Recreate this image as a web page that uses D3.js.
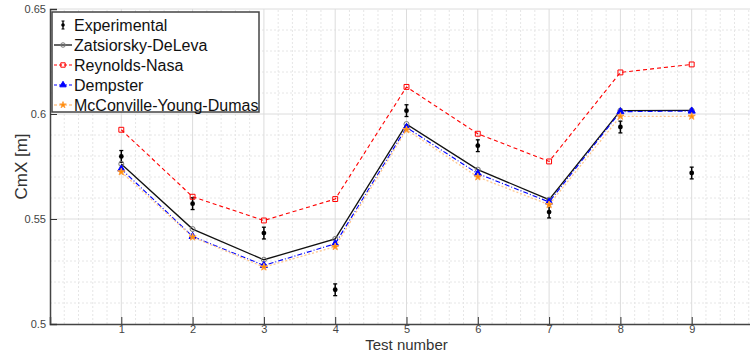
<!DOCTYPE html>
<html>
<head>
<meta charset="utf-8">
<script src="https://cdn.jsdelivr.net/npm/d3@7"></script>
<style>
  body { margin: 0; background: #fff; }
  svg { display: block; font-family: 'Liberation Sans', Arial, sans-serif; }
</style>
</head>
<body>
<div id="chart"></div>
<script>
const tests = [1, 2, 3, 4, 5, 6, 7, 8, 9];
const experimental = [0.5798, 0.5573, 0.5433, 0.5163, 0.6016, 0.5849, 0.5533, 0.5938, 0.5719];
const experimentalErr = [0.0028, 0.0028, 0.0028, 0.0028, 0.0028, 0.0028, 0.0028, 0.0028, 0.0028];
const zatsiorsky = [0.5762, 0.5452, 0.5306, 0.5405, 0.5952, 0.5735, 0.5592, 0.6016, 0.6017];
const reynolds = [0.5925, 0.5606, 0.5493, 0.5595, 0.6129, 0.5906, 0.5774, 0.6198, 0.6236];
const dempster = [0.5738, 0.5417, 0.5279, 0.5382, 0.5936, 0.5716, 0.5581, 0.6011, 0.6014];
const mcconville = [0.5724, 0.5414, 0.5271, 0.5368, 0.5925, 0.5700, 0.5568, 0.5989, 0.5989];
const yTicks = [0.5, 0.55, 0.6, 0.65];

const width = 750, height = 353;
const margin = {left: 50, top: 9, bottom: 29};
const plotRight = 763; // x = 10 falls just past the window edge

const x = d3.scaleLinear().domain([0, 10]).range([margin.left, plotRight]);
const y = d3.scaleLinear().domain([0.5, 0.65]).range([height - margin.bottom, margin.top]);

const svg = d3.select('#chart').append('svg')
  .attr('width', width)
  .attr('height', height);

// grid
const grid = svg.append('g');
grid.selectAll('line.xminor')
  .data(d3.range(0, 10.01, 0.2).filter((d) => Math.abs(d - Math.round(d)) > 1e-6))
  .join('line')
  .attr('x1', (d) => x(d)).attr('x2', (d) => x(d))
  .attr('y1', y(0.5)).attr('y2', y(0.65))
  .attr('stroke', '#e6e6e6').attr('stroke-dasharray', '2,2');
grid.selectAll('line.yminor')
  .data(d3.range(0.5, 0.6501, 0.01).filter((d) => Math.abs(d * 20 - Math.round(d * 20)) > 1e-6))
  .join('line')
  .attr('x1', margin.left).attr('x2', plotRight)
  .attr('y1', (d) => y(d)).attr('y2', (d) => y(d))
  .attr('stroke', '#e6e6e6').attr('stroke-dasharray', '2,2');
grid.selectAll('line.xmajor')
  .data(d3.range(1, 11))
  .join('line')
  .attr('x1', (d) => x(d)).attr('x2', (d) => x(d))
  .attr('y1', y(0.5)).attr('y2', y(0.65))
  .attr('stroke', '#dcdcdc');
grid.selectAll('line.ymajor')
  .data(yTicks.slice(1))
  .join('line')
  .attr('x1', margin.left).attr('x2', plotRight)
  .attr('y1', (d) => y(d)).attr('y2', (d) => y(d))
  .attr('stroke', '#dcdcdc');

// axes
const xAxis = svg.append('g')
  .attr('transform', `translate(0,${y(0.5)})`)
  .call(d3.axisBottom(x).tickValues(tests).tickSize(-7).tickPadding(1).tickFormat(d3.format('d')));
xAxis.select('.domain').attr('stroke', '#444').attr('stroke-width', 1.5);
xAxis.selectAll('.tick line').attr('stroke', '#333');
xAxis.selectAll('.tick text').attr('font-size', 11).attr('fill', '#444')
  .attr('font-family', "'Liberation Sans', Arial, sans-serif");

const yAxis = svg.append('g')
  .attr('transform', `translate(${margin.left},0)`)
  .call(d3.axisLeft(y).tickValues(yTicks).tickSize(-7).tickPadding(4).tickFormat((d) => String(+d.toFixed(2))));
yAxis.select('.domain').attr('stroke', '#444').attr('stroke-width', 1.5);
yAxis.selectAll('.tick line').attr('stroke', '#333');
yAxis.selectAll('.tick text').attr('font-size', 11).attr('fill', '#444')
  .attr('font-family', "'Liberation Sans', Arial, sans-serif");

svg.append('text')
  .attr('x', (margin.left + plotRight) / 2).attr('y', 349.5)
  .attr('text-anchor', 'middle').attr('font-size', 15).attr('fill', '#333')
  .text('Test number');
svg.append('text')
  .attr('transform', `translate(27,${(y(0.5) + y(0.65)) / 2}) rotate(-90)`)
  .attr('text-anchor', 'middle').attr('font-size', 17).attr('fill', '#333')
  .text('CmX [m]');

// series
const series = [
  {name: 'Zatsiorsky-DeLeva', values: zatsiorsky, color: '#111', dash: null, width: 1.3,
    symbol: d3.symbolCircle, size: 20, fill: 'none', mstroke: '#777'},
  {name: 'Reynolds-Nasa', values: reynolds, color: '#f00', dash: '4,3', width: 1.1,
    symbol: d3.symbolSquare, size: 24, fill: 'none', mstroke: '#f00'},
  {name: 'Dempster', values: dempster, color: '#00f', dash: '5,2,1,2', width: 1.1,
    symbol: d3.symbolTriangle, size: 22, fill: '#00f', mstroke: '#00f'},
  {name: 'McConville-Young-Dumas', values: mcconville, color: '#ffc890', dash: '2,2', width: 1.3,
    symbol: d3.symbolStar, size: 16, fill: '#ff8c00', mstroke: '#ffa040'},
];

const line = d3.line().x((d, i) => x(tests[i])).y((d) => y(d));

// experimental with error bars
const exp = svg.append('g');
exp.selectAll('g')
  .data(experimental)
  .join('g')
  .each(function(d, i) {
    const g = d3.select(this);
    const cx = x(tests[i]);
    const e = experimentalErr[i];
    g.append('line').attr('x1', cx).attr('x2', cx).attr('y1', y(d - e)).attr('y2', y(d + e))
      .attr('stroke', '#000').attr('stroke-width', 1.5);
    [d - e, d + e].forEach((v) => g.append('line')
      .attr('x1', cx - 2).attr('x2', cx + 2).attr('y1', y(v)).attr('y2', y(v))
      .attr('stroke', '#000').attr('stroke-width', 1.3));
    g.append('circle').attr('cx', cx).attr('cy', y(d)).attr('r', 2.4).attr('fill', '#000');
  });

for (const s of series) {
  svg.append('path')
    .datum(s.values)
    .attr('fill', 'none')
    .attr('stroke', s.color)
    .attr('stroke-width', s.width)
    .attr('stroke-dasharray', s.dash)
    .attr('d', line);
  svg.append('g')
    .selectAll('path')
    .data(s.values)
    .join('path')
    .attr('transform', (d, i) => `translate(${x(tests[i])},${y(d)})`)
    .attr('d', d3.symbol(s.symbol, s.size))
    .attr('fill', s.fill)
    .attr('stroke', s.mstroke)
    .attr('stroke-width', 1);
}

// legend
const legend = svg.append('g').attr('transform', 'translate(52,12)');
legend.append('rect')
  .attr('width', 207).attr('height', 100)
  .attr('fill', '#fff').attr('stroke', '#444').attr('stroke-width', 1.5);

const legendItems = [{name: 'Experimental'}, ...series];
const rows = legend.selectAll('g.row')
  .data(legendItems)
  .join('g')
  .attr('transform', (d, i) => `translate(0,${13 + i * 20})`);

rows.each(function(d, i) {
  const g = d3.select(this);
  if (i === 0) {
    g.append('line').attr('x1', 11).attr('x2', 11).attr('y1', -4).attr('y2', 4)
      .attr('stroke', '#000').attr('stroke-width', 1.3);
    [-4, 4].forEach((v) => g.append('line').attr('x1', 9.5).attr('x2', 12.5)
      .attr('y1', v).attr('y2', v).attr('stroke', '#000'));
    g.append('circle').attr('cx', 11).attr('cy', 0).attr('r', 1.8).attr('fill', '#000');
  } else {
    g.append('line').attr('x1', 2).attr('x2', 20).attr('y1', 0).attr('y2', 0)
      .attr('stroke', d.color).attr('stroke-width', d.width)
      .attr('stroke-dasharray', d.dash ? '3,2' : null);
    g.append('path').attr('transform', 'translate(11,0)')
      .attr('d', d3.symbol(d.symbol, d.size * 0.8))
      .attr('fill', d.fill).attr('stroke', d.mstroke);
  }
  g.append('text')
    .attr('x', 22).attr('y', 0).attr('dy', '0.35em')
    .attr('font-size', 16).attr('fill', '#111')
    .text(d.name);
});
</script>
</body>
</html>
